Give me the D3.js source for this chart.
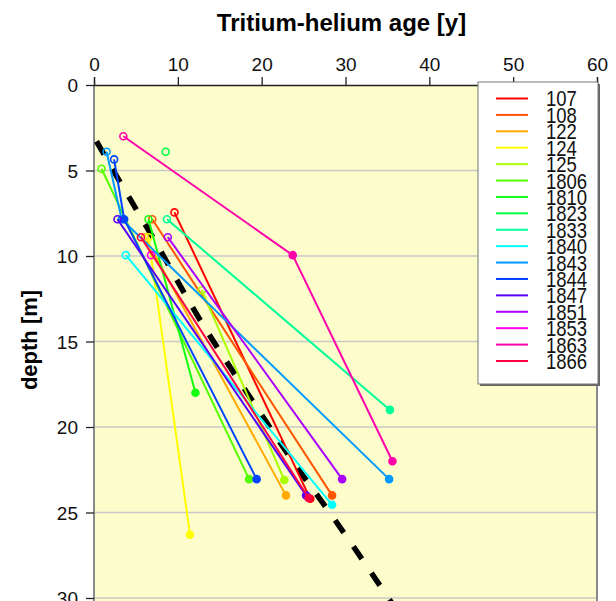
<!DOCTYPE html>
<html>
<head>
<meta charset="utf-8">
<script src="https://cdn.jsdelivr.net/npm/d3@7"></script>
<style>
body{margin:0;background:#ffffff;}
svg{display:block;font-family:"Liberation Sans",Arial,sans-serif;}
</style>
</head>
<body>
<svg id="chart" width="616" height="601"></svg>
<script>
// well ids, in legend order
var wells=["107","108","122","124","125","1806","1810","1823","1833","1840","1843","1844","1847","1851","1853","1863","1866"];

// tritium-helium age [y] of each sample, per well
var ages=[
    [9.6,25.8],
    [6.95,28.4],
    [6.1,22.9],
    [6.5,11.45],
    [12.85,22.7],
    [0.9,18.5],
    [6.5,12.1],
    [8.55],
    [8.7,35.3],
    [3.8,28.4],
    [1.5,3.3,35.2],
    [2.4,3.6,19.4],
    [2.8,25.3],
    [8.8,29.6],
    [6.8],
    [3.5,23.7,35.6],
    [5.6,25.6]
];

// sample depth [m], per well
var depths=[
    [7.45,24.2],
    [7.85,24.0],
    [8.9,24.0],
    [8.9,26.3],
    [12.0,23.1],
    [4.9,23.05],
    [7.85,18.0],
    [3.9],
    [7.85,19.0],
    [9.95,24.55],
    [3.9,7.85,23.05],
    [4.35,7.85,23.05],
    [7.85,24.0],
    [8.9,23.05],
    [9.95],
    [3.0,9.95,22.0],
    [8.9,24.15]
];

// model age-depth curve (black dashed)
var modelDepth=[3.3,5.5,8.9,13.9,18.7,22.0,25.2,30.5];
var modelAge=[0.3,2.9,7.0,12.85,19.2,23.7,28.4,35.8];

var xTicks=[0,10,20,30,40,50,60];
var yTicks=[0,5,10,15,20,25,30];

var palette=["#ff0000","#ff5500","#ffaa00","#ffff00","#aaff00","#55ff00","#11ff11","#00ff44",
             "#00ff99","#00ffff","#0099ff","#0044ff","#5500ff","#aa00ff","#ff00ee","#ff00aa","#ff0044"];

var svg=d3.select("#chart");

var pLeft=94, pRight=597, pTop=85, pBottom=598;

var x=d3.scaleLinear().domain([0,60]).range([pLeft,pRight]);
var y=d3.scaleLinear().domain([0,30]).range([pTop,pBottom]);

var color=d3.scaleOrdinal().domain(wells).range(palette);

// plot background
svg.append("rect")
    .attr("x",pLeft).attr("y",pTop)
    .attr("width",pRight-pLeft).attr("height",620-pTop)
    .attr("fill","#fdfccb");

// horizontal grid
svg.append("g").selectAll("line")
    .data(yTicks.filter(function(d){ return d>0; }))
    .enter().append("line")
    .attr("x1",pLeft).attr("x2",pRight)
    .attr("y1",function(d){ return y(d); })
    .attr("y2",function(d){ return y(d); })
    .attr("stroke","#c8c8c8")
    .attr("stroke-width",1.5);

// frame sides
svg.append("line").attr("x1",pLeft).attr("x2",pLeft).attr("y1",pTop).attr("y2",620)
    .attr("stroke","#8a8a8a").attr("stroke-width",2);
svg.append("line").attr("x1",pRight).attr("x2",pRight).attr("y1",pTop).attr("y2",620)
    .attr("stroke","#8a8a8a").attr("stroke-width",2);

// axes
var xAxis=svg.append("g")
    .attr("transform","translate(0,"+pTop+")")
    .call(d3.axisTop(x).tickValues(xTicks).tickSize(8).tickPadding(6));
var yAxis=svg.append("g")
    .attr("transform","translate("+pLeft+",0)")
    .call(d3.axisLeft(y).tickValues(yTicks).tickSize(8).tickPadding(8));

[xAxis,yAxis].forEach(function(a){
    a.selectAll("text").style("font-size","19px").style("font-family","Liberation Sans").attr("fill","#111");
    a.selectAll("line").attr("stroke","#222").attr("stroke-width",1.3);
    a.select(".domain").attr("stroke","#222").attr("stroke-width",1.3);
});
yAxis.select(".domain").remove();
yAxis.selectAll("text").attr("dy","0.36em");

// titles
svg.append("text")
    .attr("x",(pLeft+pRight)/2-4).attr("y",31)
    .attr("text-anchor","middle")
    .style("font-size","24px").style("font-weight","bold")
    .text("Tritium-helium age [y]");

svg.append("text")
    .attr("transform","translate(37,"+340+") rotate(-90)")
    .attr("text-anchor","middle")
    .style("font-size","22px").style("font-weight","bold")
    .text("depth [m]");

// clip for plot marks
svg.append("clipPath").attr("id","plotClip")
    .append("rect").attr("x",pLeft).attr("y",pTop).attr("width",pRight-pLeft).attr("height",620-pTop);

var plot=svg.append("g").attr("clip-path","url(#plotClip)");

// model curve
var modelPts=modelAge.map(function(a,i){ return [a,modelDepth[i]]; });
plot.append("path")
    .datum(modelPts)
    .attr("fill","none")
    .attr("stroke","#000")
    .attr("stroke-width",5.5)
    .attr("stroke-dasharray","15,17")
    .attr("d",d3.line().curve(d3.curveMonotoneY)
        .x(function(d){ return x(d[0]); })
        .y(function(d){ return y(d[1]); }));

// well profiles
var line=d3.line().x(function(d){ return x(d[0]); }).y(function(d){ return y(d[1]); });

wells.forEach(function(w,i){
    var pts=ages[i].map(function(a,k){ return [a,depths[i][k]]; });
    var g=plot.append("g");
    if(pts.length>1){
        g.append("path").datum(pts)
            .attr("fill","none")
            .attr("stroke",color(w))
            .attr("stroke-width",2)
            .attr("d",line);
    }
    g.selectAll("circle").data(pts).enter().append("circle")
        .attr("cx",function(d){ return x(d[0]); })
        .attr("cy",function(d){ return y(d[1]); })
        .attr("r",3.5)
        .attr("fill",function(d,k){ return k==0 ? "none" : color(w); })
        .attr("stroke",color(w))
        .attr("stroke-width",1.6);
});

// legend
var lg=svg.append("g");
lg.append("rect").attr("x",480).attr("y",84).attr("width",120).attr("height",302).attr("fill","#666");
lg.append("rect").attr("x",478).attr("y",82).attr("width",120).attr("height",302)
    .attr("fill","#ffffff").attr("stroke","#777").attr("stroke-width",1);

var ly=d3.scaleLinear().domain([0,wells.length-1]).range([98.5,361]);
wells.forEach(function(w,i){
    lg.append("line")
        .attr("x1",496).attr("x2",528)
        .attr("y1",ly(i)).attr("y2",ly(i))
        .attr("stroke",color(w)).attr("stroke-width",2);
    lg.append("text")
        .attr("transform","translate(546,"+ly(i)+") scale(1,1.2)")
        .attr("dy","0.36em")
        .style("font-size","18.5px")
        .attr("fill","#111")
        .text(w);
});
</script>
</body>
</html>
